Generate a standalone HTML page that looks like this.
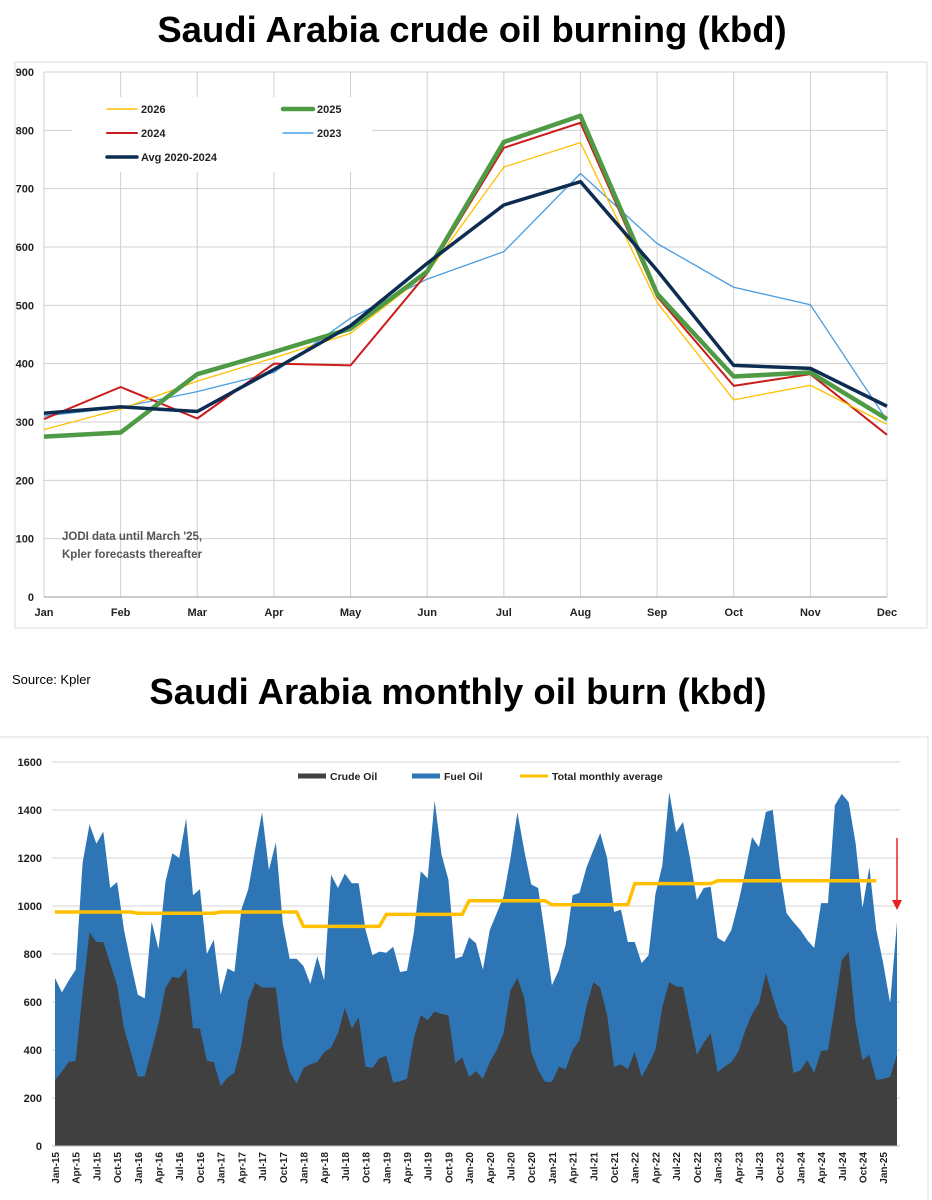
<!DOCTYPE html>
<html><head><meta charset="utf-8">
<style>
body{margin:0;background:#fff;width:932px;height:1200px;overflow:hidden;font-family:"Liberation Sans",sans-serif}
svg{position:absolute;left:0;top:0}
</style></head><body>
<svg id="s" width="932" height="1200" viewBox="0 0 932 1200">
<text x="472" y="42" text-anchor="middle" font-size="36.5" font-weight="bold" fill="#000">Saudi Arabia crude oil burning (kbd)</text>
<text x="12" y="684" font-size="13" fill="#000">Source: Kpler</text>
<text x="458" y="704" text-anchor="middle" font-size="36.5" font-weight="bold" fill="#000">Saudi Arabia monthly oil burn (kbd)</text>
<g id="top"></g>
<g id="bot"></g>
</svg>
<script>
// ---- top chart data ----
const months = ["Jan","Feb","Mar","Apr","May","Jun","Jul","Aug","Sep","Oct","Nov","Dec"];
const yTicksTop = [0,100,200,300,400,500,600,700,800,900];
const s2026 = [287,322,370,410,452,555,737,779,505,338,363,296];
const s2025 = [275,282,382,420,460,558,780,825,520,378,385,305];
const s2024 = [305,360,306,400,397,555,770,813,515,362,382,278];
const s2023 = [310,325,352,385,478,545,592,726,606,531,501,303];
const sAvg  = [315,326,318,390,465,572,672,712,560,397,392,327];
// ---- bottom chart data ----
const crude = [275,310,350,355,640,890,850,850,760,670,490,390,
 290,290,400,510,660,705,700,740,490,490,355,350,
 250,285,305,420,605,680,660,660,660,420,310,260,
 325,340,350,390,410,470,575,490,535,330,325,365,
 375,265,270,280,450,545,525,560,550,545,345,370,
 288,312,280,350,400,470,650,700,617,392,317,267,
 267,330,320,400,440,580,683,660,545,330,340,320,
 392,288,340,400,580,683,665,662,520,380,430,470,
 308,330,350,392,480,550,595,720,620,533,500,304,
 315,358,304,396,400,580,775,808,512,358,380,275,
 280,288,380];
const total = [700,640,690,735,1180,1340,1260,1310,1075,1100,900,760,
 630,615,935,820,1100,1220,1200,1365,1045,1070,800,860,
 630,740,725,985,1070,1235,1390,1150,1265,930,780,780,
 750,675,790,690,1130,1075,1135,1095,1095,900,795,810,
 805,830,725,730,890,1145,1115,1440,1215,1110,780,790,
 870,845,735,900,970,1040,1200,1390,1230,1090,1075,880,
 670,733,840,1045,1055,1160,1233,1304,1200,975,985,850,
 850,762,795,1050,1170,1475,1308,1350,1200,1025,1075,1080,
 867,850,900,1012,1142,1287,1246,1392,1400,1150,970,933,
 900,858,825,1012,1012,1420,1467,1433,1262,992,1162,900,
 762,595,933];
const avgYears = [975,970,975,915,965,1022,1005,1093,1105,1105];
const yTicksBot = [0,200,400,600,800,1000,1200,1400,1600];
const mNames = ["Jan","Apr","Jul","Oct"];

const NS="http://www.w3.org/2000/svg";
function mk(tag,attrs,parent,txt){const e=document.createElementNS(NS,tag);for(const k in attrs)e.setAttribute(k,attrs[k]);if(txt!==undefined)e.textContent=txt;parent.appendChild(e);return e;}

// ===== top chart =====
const T=document.getElementById('top');
const tx=i=>44+i*(887-44)/11, ty=v=>597-v*(597-72)/900;
mk('rect',{x:15,y:62,width:912,height:566,fill:'none',stroke:'#ddd'},T);
yTicksTop.forEach(v=>{
  const g=mk('line',{x1:44,x2:887,y1:ty(v),y2:ty(v),stroke:'#d0d0d0','stroke-width':1},T);
  
  
  const t=mk('text',{x:34,y:ty(v)+4,'text-anchor':'end','font-size':11,'font-weight':'bold',fill:'#222'},T,String(v));
  
  
});
months.forEach((m,i)=>{
  const g=mk('line',{x1:tx(i),x2:tx(i),y1:72,y2:597,stroke:'#d0d0d0','stroke-width':1},T);
  
  
  const t=mk('text',{x:tx(i),y:616,'text-anchor':'middle','font-size':11,'font-weight':'bold',fill:'#222'},T,m);
  
  
});
mk('line',{x1:44,x2:887,y1:597,y2:597,stroke:'#999'},T);
const lg=mk('rect',{x:72,y:97,width:300,height:75,fill:'#fff'},T);


const topSeries=[[s2023,'#4a9de0',1.3,'2023',283,133],[s2024,'#cc1b1b',2,'2024',107,133],[s2026,'#ffc000',1.3,'2026',107,109],[s2025,'#4e9a45',4.5,'2025',283,109],[sAvg,'#0d2c52',3.5,'Avg 2020-2024',107,157]];
topSeries.forEach(([d,c,w,name,lx,ly])=>{
  const p=mk('polyline',{points:d.map((v,i)=>tx(i)+','+ty(v)).join(' '),fill:'none',stroke:c,'stroke-width':w,'stroke-linejoin':'round'},T);
  
  
  const l=mk('line',{x1:lx,x2:lx+30,y1:ly,y2:ly,stroke:c,'stroke-width':Math.max(w,1.5),'stroke-linecap':'round'},T);
  
  
  const t=mk('text',{x:lx+34,y:ly+4,'font-size':11,'font-weight':'bold',fill:'#222'},T,name);
  
  
});
const n1=mk('text',{x:62,y:540,'font-size':11.5,'font-weight':'bold',fill:'#555'},T,"JODI data until March '25,");


const n2=mk('text',{x:62,y:558,'font-size':11.5,'font-weight':'bold',fill:'#555'},T,"Kpler forecasts thereafter");



// ===== bottom chart =====
const B=document.getElementById('bot');
const bx=i=>55+i*(897-55)/122, by=v=>1146-v*(1146-762)/1600;
mk('line',{x1:0,x2:928,y1:737,y2:737,stroke:'#ddd'},B);
mk('line',{x1:928,x2:928,y1:737,y2:1200,stroke:'#ddd'},B);
yTicksBot.forEach(v=>{
  const g=mk('line',{x1:52,x2:900,y1:by(v),y2:by(v),stroke:'#d4d4d4'},B);
  
  
  const t=mk('text',{x:42,y:by(v)+4,'text-anchor':'end','font-size':11,'font-weight':'bold',fill:'#222'},B,String(v));
  
  
});
const tp=total.map((v,i)=>bx(i)+','+by(v)).join(' ');
const fuel=mk('polygon',{points:bx(0)+','+by(0)+' '+tp+' '+bx(total.length-1)+','+by(0),fill:'#2e75b6'},B);


const cp=crude.map((v,i)=>bx(i)+','+by(v)).join(' ');
const cr=mk('polygon',{points:bx(0)+','+by(0)+' '+cp+' '+bx(crude.length-1)+','+by(0),fill:'#404040'},B);


const ap=[];
avgYears.forEach((v,y)=>{for(let m=0;m<12;m++)ap.push(bx(y*12+m)+','+by(v));});
const av=mk('polyline',{points:ap.join(' '),fill:'none',stroke:'#ffc000','stroke-width':3.5},B);


mk('line',{x1:52,x2:900,y1:by(0),y2:by(0),stroke:'#bbb'},B);
for(let i=0;i<crude.length;i+=3){
  const yr=String(15+Math.floor(i/12));
  const lab=mNames[(i%12)/3]+'-'+yr;
  const t=mk('text',{transform:'translate('+(bx(i)+4)+',1152) rotate(-90)','text-anchor':'end','font-size':10,'font-weight':'bold',fill:'#222'},B,lab);
  
  
}
[['#404040',298,'Crude Oil',5],['#2e75b6',412,'Fuel Oil',5],['#ffc000',520,'Total monthly average',3]].forEach(([c,lx,name,w])=>{
  const l=mk('line',{x1:lx,x2:lx+28,y1:776,y2:776,stroke:c,'stroke-width':w},B);
  
  
  const t=mk('text',{x:lx+32,y:780,'font-size':10.5,'font-weight':'bold',fill:'#222'},B,name);
  
  
});
const ar=mk('line',{x1:897,x2:897,y1:838,y2:900,stroke:'#e8231f','stroke-width':1.5},B);


const ah=mk('polygon',{points:'892,900 902,900 897,910',fill:'#e8231f'},B);


</script>
</body></html>
